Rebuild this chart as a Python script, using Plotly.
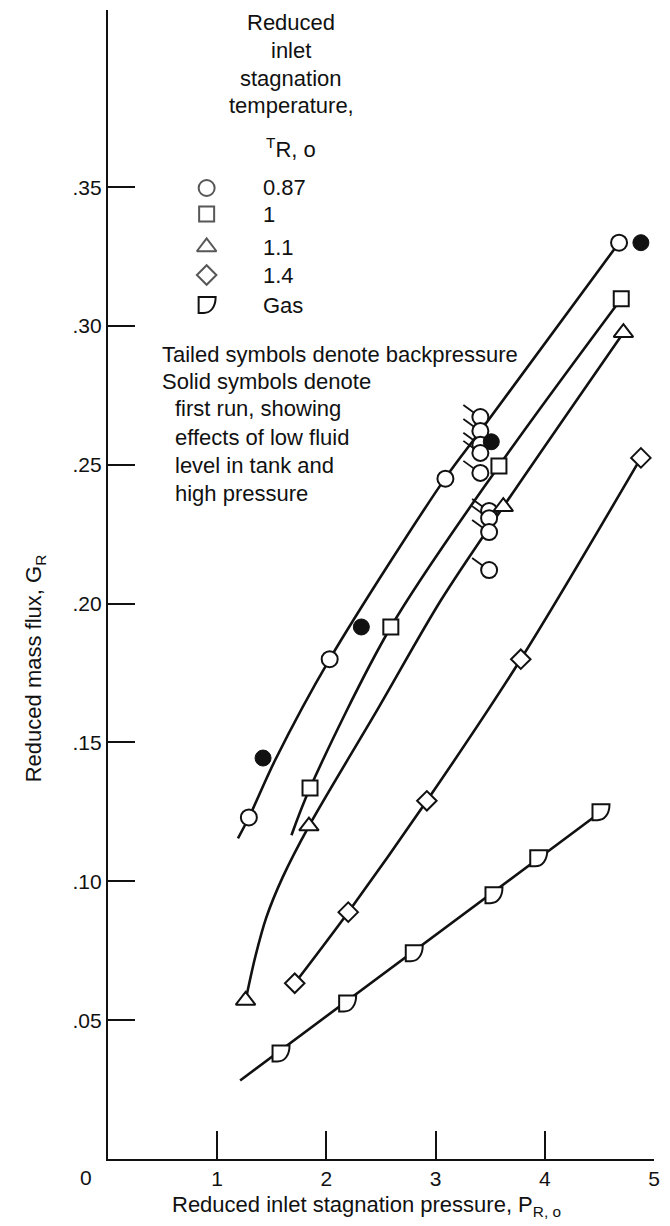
import plotly.graph_objects as go

# ---------------- data ----------------
# T_R,o = 0.87, open circles (untailed)
p_087 = [1.29, 2.03, 3.09, 4.68]
g_087 = [0.123, 0.180, 0.245, 0.330]
# T_R,o = 0.87, tailed open circles (backpressure)
p_087_tail = [3.41, 3.41, 3.41, 3.41, 3.41, 3.49, 3.49, 3.49, 3.49]
g_087_tail = [0.2672, 0.2622, 0.2572, 0.2543, 0.2471, 0.2334, 0.2308, 0.2258, 0.2121]
# solid circles (first run)
p_solid = [1.42, 2.32, 3.51, 4.88]
g_solid = [0.1444, 0.1916, 0.2583, 0.330]
# T_R,o = 1, squares
p_1 = [1.85, 2.59, 3.58, 4.70]
g_1 = [0.1336, 0.1916, 0.2496, 0.3098]
# T_R,o = 1.1, triangles
p_11 = [1.26, 1.84, 3.62, 4.72]
g_11 = [0.0571, 0.1199, 0.2349, 0.2976]
# T_R,o = 1.4, diamonds
p_14 = [1.71, 2.20, 2.92, 3.78, 4.88]
g_14 = [0.0633, 0.0889, 0.129, 0.180, 0.2525]
# gas
p_gas = [1.58, 2.19, 2.80, 3.53, 3.94, 4.51]
g_gas = [0.038, 0.056, 0.0741, 0.095, 0.1083, 0.1249]

# faired curves, points
curve_087_p = [1.19, 1.29, 1.53, 2.03, 3.09, 3.41, 4.68]
curve_087_g = [0.1155, 0.123, 0.1436, 0.180, 0.2453, 0.2622, 0.330]
curve_1_p = [1.68, 1.85, 2.59, 3.58, 4.70]
curve_1_g = [0.1166, 0.1336, 0.1916, 0.2496, 0.3098]
curve_11_p = [1.26, 1.35, 1.45, 1.60, 1.84, 2.47, 3.05, 3.62, 4.72]
curve_11_g = [0.0571, 0.073, 0.087, 0.1015, 0.1199, 0.162, 0.2013, 0.2349, 0.2976]
curve_14_p = [1.71, 2.20, 2.92, 3.78, 4.88]
curve_14_g = [0.0633, 0.0889, 0.129, 0.180, 0.2525]
curve_gas_p = [1.21, 4.51]
curve_gas_g = [0.0283, 0.1249]

x_ticks = [1, 2, 3, 4, 5]
x_ticktext = ["1", "2", "3", "4", "5"]
y_ticks = [0.05, 0.10, 0.15, 0.20, 0.25, 0.30, 0.35]
y_ticktext = [".05", ".10", ".15", ".20", ".25", ".30", ".35"]

legend_labels = ["0.87", "1", "1.1", "1.4", "Gas"]
legend_title = ["Reduced", "inlet", "stagnation", "temperature,", "<sup>T</sup>R, o"]
note_lines = ["Tailed symbols denote backpressure", "Solid symbols denote",
              "first run, showing", "effects of low fluid", "level in tank and",
              "high pressure"]

# ---------------- layout geometry ----------------
W, H = 670, 1226
ML, MR, MT, MB = 108, 14, 10, 67
PW, PH = W - ML - MR, H - MT - MB
FONT = "Liberation Sans, Arial, DejaVu Sans, sans-serif"
INK = "#111111"


def fx(xp):
    return (xp - ML) / PW


def fy(yp):
    return (H - MB - yp) / PH


fig = go.Figure()

line_style = dict(color=INK, width=2.6, shape="spline", smoothing=0.9)
for cp, cg in [(curve_087_p, curve_087_g), (curve_1_p, curve_1_g),
               (curve_11_p, curve_11_g), (curve_14_p, curve_14_g)]:
    fig.add_trace(go.Scatter(x=cp, y=cg, mode="lines", line=line_style,
                             hoverinfo="skip", showlegend=False))
fig.add_trace(go.Scatter(x=curve_gas_p, y=curve_gas_g, mode="lines",
                         line=dict(color=INK, width=2.6), hoverinfo="skip",
                         showlegend=False))


def open_marker(symbol, size):
    return dict(symbol=symbol, size=size, color="white", line=dict(color=INK, width=2))


fig.add_trace(go.Scatter(x=p_087 + p_087_tail, y=g_087 + g_087_tail, mode="markers",
                         marker=open_marker("circle", 16), name="0.87", showlegend=False))
fig.add_trace(go.Scatter(x=p_solid, y=g_solid, mode="markers",
                         marker=dict(symbol="circle", size=16, color=INK,
                                     line=dict(color=INK, width=1)),
                         name="first run", showlegend=False))
fig.add_trace(go.Scatter(x=p_1, y=g_1, mode="markers",
                         marker=open_marker("square", 15), name="1", showlegend=False))
fig.add_trace(go.Scatter(x=p_11, y=g_11, mode="markers",
                         marker=open_marker("triangle-up", 17), name="1.1", showlegend=False))
fig.add_trace(go.Scatter(x=p_14, y=g_14, mode="markers",
                         marker=open_marker("diamond", 15), name="1.4", showlegend=False))
# invisible trace carrying the gas points (the glyphs are pixel-sized shapes)
fig.add_trace(go.Scatter(x=p_gas, y=g_gas, mode="markers",
                         marker=dict(size=16, color="rgba(0,0,0,0)"), name="Gas",
                         showlegend=False))

GAS_PATH = "M -8,8 L 9,8 C 9,-2 4,-8 -3,-8 L -8,-8 Z"
TAIL_PATH = "M -6,4 L -17,12"
shapes = []
for p, g in zip(p_gas, g_gas):
    shapes.append(dict(type="path", xref="x", yref="y", xsizemode="pixel",
                       ysizemode="pixel", xanchor=p, yanchor=g, path=GAS_PATH,
                       line=dict(color=INK, width=2), fillcolor="white", layer="above"))
for p, g in zip(p_087_tail, g_087_tail):
    shapes.append(dict(type="path", xref="x", yref="y", xsizemode="pixel",
                       ysizemode="pixel", xanchor=p, yanchor=g, path=TAIL_PATH,
                       line=dict(color=INK, width=1.8), layer="above"))

# ---------------- legend block (drawn as annotation + glyphs) ----------------
leg_y = [188, 214, 247, 275, 305]
leg_sym = ["circle", "square", "triangle-up", "diamond"]
leg_size = [16, 15, 17, 15]
fig.add_trace(go.Scatter(x=[fx(207)] * 4, y=[fy(v) for v in leg_y[:4]], xaxis="x2",
                         yaxis="y2", mode="markers",
                         marker=dict(symbol=leg_sym, size=leg_size, color="white",
                                     line=dict(color=INK, width=2)),
                         hoverinfo="skip", showlegend=False))
shapes.append(dict(type="path", xref="paper", yref="paper", xsizemode="pixel",
                   ysizemode="pixel", xanchor=fx(207), yanchor=fy(leg_y[4]),
                   path=GAS_PATH, line=dict(color=INK, width=2), fillcolor="white"))

ann = []
title_y = [22, 50, 78, 106, 148]
for txt, yy in zip(legend_title, title_y):
    ann.append(dict(text=txt, x=fx(292), y=fy(yy), xref="paper", yref="paper",
                    xanchor="center", yanchor="middle", showarrow=False,
                    font=dict(size=22, family=FONT, color=INK)))
for txt, yy in zip(legend_labels, leg_y):
    ann.append(dict(text=txt, x=fx(262), y=fy(yy), xref="paper", yref="paper",
                    xanchor="left", yanchor="middle", showarrow=False,
                    font=dict(size=22, family=FONT, color=INK)))
note_y = [355, 382, 409, 437, 465, 493]
note_x = [160, 160, 173, 173, 173, 173]
for txt, xx, yy in zip(note_lines, note_x, note_y):
    ann.append(dict(text=txt, x=fx(xx), y=fy(yy), xref="paper", yref="paper",
                    xanchor="left", yanchor="middle", showarrow=False,
                    font=dict(size=22, family=FONT, color=INK)))

# origin label and axis titles
ann.append(dict(text="0", x=fx(86), y=fy(1177), xref="paper", yref="paper",
                xanchor="center", yanchor="middle", showarrow=False,
                font=dict(size=21, family=FONT, color=INK)))
ann.append(dict(text="Reduced inlet stagnation pressure, P<sub>R, o</sub>",
                x=fx(170), y=fy(1206), xref="paper", yref="paper", xanchor="left",
                yanchor="middle", showarrow=False,
                font=dict(size=22, family=FONT, color=INK)))
ann.append(dict(text="Reduced mass flux, G<sub>R</sub>", x=fx(35), y=fy(668),
                xref="paper", yref="paper", xanchor="center", yanchor="middle",
                textangle=-90, showarrow=False,
                font=dict(size=22, family=FONT, color=INK)))

fig.update_layout(
    width=W, height=H,
    margin=dict(l=ML, r=MR, t=MT, b=MB),
    paper_bgcolor="white", plot_bgcolor="white",
    showlegend=False,
    font=dict(family=FONT, color=INK),
    xaxis=dict(range=[0, 5], showline=True, linecolor=INK, linewidth=2.2,
               ticks="inside", ticklen=28, tickwidth=2, tickcolor=INK,
               tickvals=x_ticks, ticktext=x_ticktext, showgrid=False, zeroline=False,
               tickfont=dict(size=21, family=FONT, color=INK), fixedrange=True),
    yaxis=dict(range=[0, 0.4138], showline=True, linecolor=INK, linewidth=2.2,
               ticks="inside", ticklen=27, tickwidth=2, tickcolor=INK,
               tickvals=y_ticks, ticktext=y_ticktext, showgrid=False, zeroline=False,
               tickfont=dict(size=21, family=FONT, color=INK), fixedrange=True),
    xaxis2=dict(range=[0, 1], overlaying="x", visible=False, fixedrange=True),
    yaxis2=dict(range=[0, 1], overlaying="y", visible=False, fixedrange=True),
    shapes=shapes,
    annotations=ann,
)

# remove the browser's default 8px page margin so the figure sits at (0, 0)
fig.write_html("out.html", config={"displayModeBar": False},
               post_script="document.body.style.margin = '0px';")
